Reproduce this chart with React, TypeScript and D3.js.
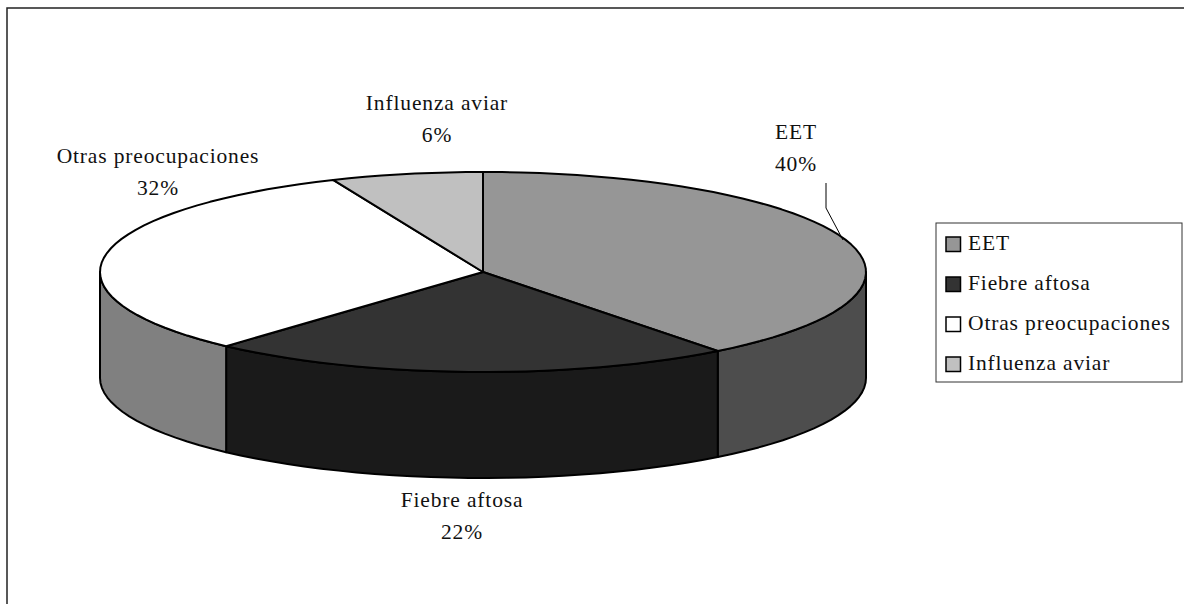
import React from 'react';
import * as d3 from 'd3';

const categories = ['EET', 'Fiebre aftosa', 'Otras preocupaciones', 'Influenza aviar'];
const values = [39.5, 22.2, 31.9, 6.4];
const percentLabels = ['40%', '22%', '32%', '6%'];
const topColors = ['#969696', '#333333', '#ffffff', '#c0c0c0'];
const sideColors = ['#4d4d4d', '#1a1a1a', '#808080', '#606060'];

const WIDTH = 1184;
const HEIGHT = 604;
const cx = 483;
const cy = 272;
const rx = 383;
const ry = 100;
const depth = 106;

// label centres, same order as categories
const labelX = [796, 462, 158, 437];
const labelY = [139, 507, 163, 110];
const LINE_GAP = 32;
const SERIF = '"Liberation Serif", "Times New Roman", serif';
const FONT_SIZE = 21.5;
const SPACING = 0.85;

const pie = d3.pie<number>().sort(null).startAngle(0).endAngle(2 * Math.PI);
const arcs = pie(values);

// pie angle (0 = 12 o'clock, clockwise) to the flattened ellipse
const px = (a: number) => cx + rx * Math.sin(a);
const py = (a: number, drop = 0) => cy - ry * Math.cos(a) + drop;

// coarse steps on purpose, the original rim is faceted
function samples(a0: number, a1: number) {
  const n = Math.max(2, Math.ceil((a1 - a0) / 0.05));
  return d3.range(n + 1).map((i) => a0 + ((a1 - a0) * i) / n);
}

const line = d3.line<[number, number]>();

function topPath(a0: number, a1: number) {
  const rim = samples(a0, a1).map((a) => [px(a), py(a)] as [number, number]);
  return line([[cx, cy], ...rim]) + 'Z';
}

function sidePath(a0: number, a1: number) {
  // only the front half of the rim is visible
  const from = Math.max(a0, Math.PI / 2);
  const to = Math.min(a1, (3 * Math.PI) / 2);
  if (to <= from) return null;
  const upper = samples(from, to).map((a) => [px(a), py(a)] as [number, number]);
  const lower = samples(from, to).reverse().map((a) => [px(a), py(a, depth)] as [number, number]);
  return line([...upper, ...lower]) + 'Z';
}

export default function App() {
  return (
    <svg
      width={WIDTH}
      height={HEIGHT}
      viewBox={`0 0 ${WIDTH} ${HEIGHT}`}
      style={{ position: 'fixed', left: 0, top: 0, background: '#fff' }}
      fontFamily={SERIF}
    >
      <rect x={7} y={8} width={1190} height={620} fill="#fff" stroke="#222" strokeWidth={1.5} />

      {arcs.map((d, i) => {
        const p = sidePath(d.startAngle, d.endAngle);
        return p ? <path key={i} d={p} fill={sideColors[i]} stroke="#000" strokeWidth={2} strokeLinejoin="round" /> : null;
      })}
      {arcs.map((d, i) => (
        <path key={i} d={topPath(d.startAngle, d.endAngle)} fill={topColors[i]} stroke="#000" strokeWidth={2} strokeLinejoin="round" />
      ))}

      <polyline points="826,183 826,208 843,240" fill="none" stroke="#000" strokeWidth={1} />

      {categories.map((c, i) => (
        <text key={c} textAnchor="middle" fontSize={FONT_SIZE} letterSpacing={SPACING} fill="#111">
          <tspan x={labelX[i]} y={labelY[i]}>{c}</tspan>
          <tspan x={labelX[i]} y={labelY[i] + LINE_GAP}>{percentLabels[i]}</tspan>
        </text>
      ))}

      <rect x={936} y={223} width={246} height={159} fill="#fff" stroke="#333" strokeWidth={1} />
      {categories.map((c, i) => (
        <g key={c} transform={`translate(946,${237 + i * 40})`}>
          <rect width={14.5} height={14.5} fill={topColors[i]} stroke="#000" strokeWidth={1.5} />
          <text x={22} y={13} fontSize={FONT_SIZE} letterSpacing={SPACING} fill="#111">{c}</text>
        </g>
      ))}
    </svg>
  );
}
